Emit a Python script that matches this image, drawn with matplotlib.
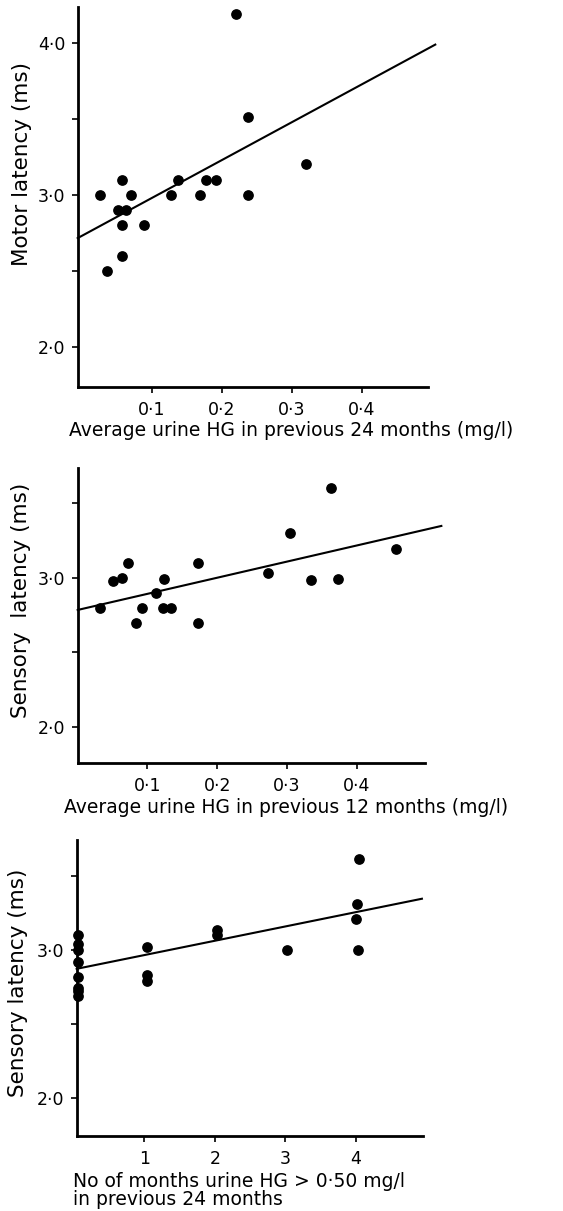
import matplotlib
matplotlib.use("Agg")
import matplotlib.pyplot as plt
import numpy as np

plt.rcParams["font.family"] = ["DejaVu Sans"]

# panel 1: motor latency vs average urine HG, previous 24 months
hg24 = [0.026, 0.036, 0.058, 0.052, 0.063, 0.070, 0.058, 0.058, 0.089, 0.127,
        0.138, 0.169, 0.178, 0.191, 0.220, 0.238, 0.238, 0.320]
motor = [3.0, 2.5, 3.1, 2.9, 2.9, 3.0, 2.8, 2.6, 2.8, 3.0,
         3.1, 3.0, 3.1, 3.1, 4.19, 3.51, 3.0, 3.2]
fit1_x = [-0.006, 0.505]
fit1_y = [2.715, 3.99]

# panel 2: sensory latency vs average urine HG, previous 12 months
hg12 = [0.032, 0.051, 0.063, 0.072, 0.083, 0.092, 0.112, 0.124, 0.122, 0.134,
        0.173, 0.172, 0.272, 0.304, 0.334, 0.363, 0.373, 0.456]
sensory12 = [2.80, 2.98, 3.0, 3.1, 2.70, 2.80, 2.90, 2.99, 2.80, 2.80,
             3.1, 2.70, 3.03, 3.30, 2.985, 3.60, 2.99, 3.19]
fit2_x = [0.0, 0.521]
fit2_y = [2.784, 3.345]

# panel 3: sensory latency vs no. of months urine HG > 0.50 mg/l
months = [0.06, 0.06, 0.06, 0.06, 0.06, 0.06, 0.06, 0.06,
          1.04, 1.04, 1.04, 2.03, 2.03, 3.03, 4.04, 4.02, 4.0, 4.03]
sensory_m = [3.1, 3.04, 3.0, 2.92, 2.82, 2.74, 2.72, 2.69,
             3.016, 2.83, 2.79, 3.135, 3.10, 3.0, 3.61, 3.31, 3.21, 3.0]
fit3_x = [0.04, 4.94]
fit3_y = [2.872, 3.344]

fig = plt.figure(figsize=(5.63, 12.11), dpi=100)

def style(ax, xlim, ylim, xticks, xlabels):
    ax.set_xlim(xlim)
    ax.set_ylim(ylim)
    for s in ["top", "right"]:
        ax.spines[s].set_visible(False)
    for s in ["left", "bottom"]:
        ax.spines[s].set_linewidth(2.0)
    ax.set_yticks([2.0, 3.0, 4.0] if ylim[1] > 4 else [2.0, 3.0])
    ax.set_yticklabels(["2·0", "3·0", "4·0"][:len(ax.get_yticks())], fontsize=12.5)
    ax.set_yticks([2.5, 3.5], minor=True)
    ax.set_xticks(xticks)
    ax.set_xticklabels(xlabels, fontsize=12.5)
    ax.tick_params(axis="y", which="both", length=4, width=1.2, pad=5)
    ax.tick_params(axis="x", length=4, width=1.2, pad=6)

# panel 1
ax1 = fig.add_axes([0.138, 0.6807, 0.6227, 0.3138])
ax1.scatter(hg24, motor, s=45, color="black", zorder=3, clip_on=False)
ax1.plot(fit1_x, fit1_y, color="black", lw=1.5, clip_on=False)
style(ax1, (-0.006, 0.495), (1.736, 4.24), [0.1, 0.2, 0.3, 0.4],
      ["0·1", "0·2", "0·3", "0·4"])
ax1.set_ylabel("Motor latency (ms)", fontsize=15.5, labelpad=4, y=0.586)
ax1.set_xlabel("Average urine HG in previous 24 months (mg/l)", fontsize=13.5,
               labelpad=2, x=0.608)

# panel 2
ax2 = fig.add_axes([0.138, 0.3697, 0.6169, 0.2436])
ax2.scatter(hg12, sensory12, s=45, color="black", zorder=3, clip_on=False)
ax2.plot(fit2_x, fit2_y, color="black", lw=1.5, clip_on=False)
style(ax2, (0.0, 0.4976), (1.76, 3.73), [0.1, 0.2, 0.3, 0.4],
      ["0·1", "0·2", "0·3", "0·4"])
ax2.set_ylabel("Sensory  latency (ms)", fontsize=15.5, labelpad=5, y=0.553)
ax2.set_xlabel("Average urine HG in previous 12 months (mg/l)", fontsize=13.5,
               labelpad=2, x=0.60)

# panel 3
ax3 = fig.add_axes([0.1362, 0.0622, 0.6157, 0.2442])
ax3.scatter(months, sensory_m, s=45, color="black", zorder=3, clip_on=False)
ax3.plot(fit3_x, fit3_y, color="black", lw=1.5, clip_on=False)
style(ax3, (0.04, 4.96), (1.748, 3.74), [1, 2, 3, 4], ["1", "2", "3", "4"])
ax3.set_ylabel("Sensory latency (ms)", fontsize=15.5, labelpad=6, y=0.516)
ax3.set_xlabel("No of months urine HG > 0·50 mg/l\nin previous 24 months",
               fontsize=13.5, labelpad=3, ha="left", x=-0.01, linespacing=0.95)

fig.savefig("out.png", dpi=100)
